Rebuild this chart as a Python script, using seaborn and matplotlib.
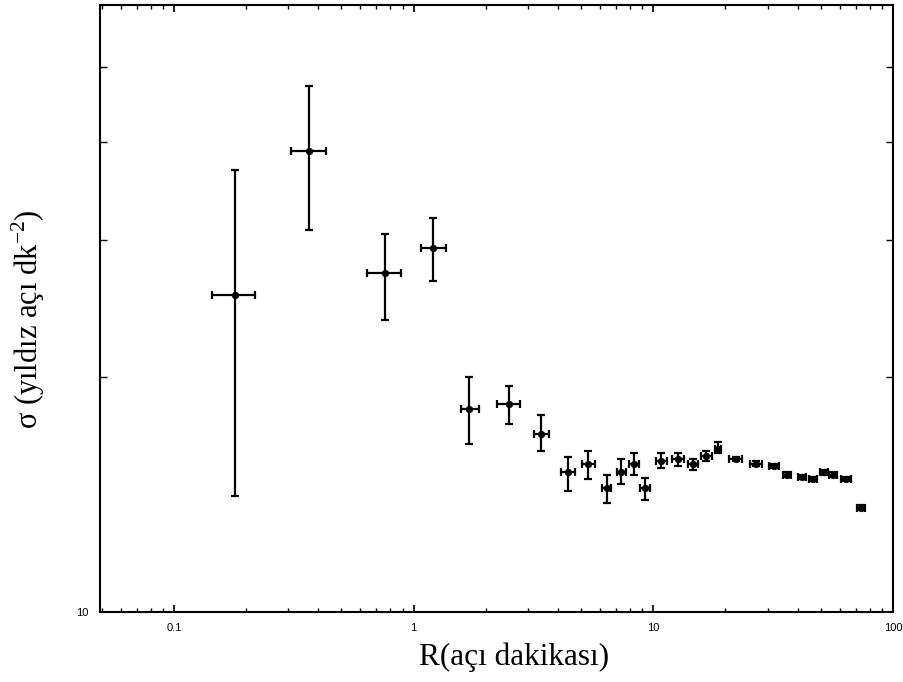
import numpy as np
import pandas as pd
import matplotlib
matplotlib.use("Agg")
import matplotlib.pyplot as plt
import seaborn as sns
from matplotlib.ticker import LogLocator, NullFormatter, FixedLocator, FixedFormatter

# values
r = [0.18, 0.365, 0.757, 1.21, 1.71, 2.51, 3.41, 4.42, 5.36, 6.43, 7.36, 8.33,
     9.26, 10.8, 12.7, 14.7, 16.6, 18.7, 22.2, 26.9, 31.9, 36.2, 41.8, 46.4,
     51.6, 56.2, 63.7, 73.6]
r_lo = [0.144, 0.307, 0.637, 1.07, 1.585, 2.22, 3.19, 4.14, 5.06, 6.13, 7.08, 7.94,
        8.83, 10.3, 12.0, 14.0, 15.85, 18.1, 20.7, 25.4, 30.4, 34.8, 40.2, 44.7,
        49.6, 54.1, 60.7, 70.8]
r_hi = [0.218, 0.430, 0.883, 1.37, 1.88, 2.77, 3.69, 4.73, 5.73, 6.68, 7.72, 8.75,
        9.72, 11.4, 13.5, 15.4, 17.5, 19.2, 23.5, 28.5, 33.5, 37.6, 43.4, 48.2,
        53.6, 58.4, 66.8, 76.4]
sigma = [25.5, 39.0, 27.2, 29.3, 18.2, 18.5, 16.9, 15.1, 15.5, 14.4, 15.1, 15.5,
         14.4, 15.6, 15.7, 15.5, 15.85, 16.2, 15.7, 15.5, 15.4, 15.0, 14.9, 14.8,
         15.1, 15.0, 14.8, 13.6]
sigma_lo = [14.1, 30.9, 23.7, 26.6, 16.4, 17.4, 16.1, 14.3, 14.8, 13.8, 14.6, 15.0,
            13.9, 15.3, 15.4, 15.2, 15.6, 16.0, 15.6, 15.4, 15.3, 14.9, 14.8, 14.7,
            15.0, 14.9, 14.7, 13.5]
sigma_hi = [36.9, 47.2, 30.5, 32.0, 20.0, 19.5, 17.9, 15.8, 16.1, 15.0, 15.7, 16.0,
            14.85, 15.99, 16.0, 15.7, 16.1, 16.5, 15.8, 15.6, 15.5, 15.1, 15.0, 14.9,
            15.2, 15.1, 14.9, 13.7]

df = pd.DataFrame({"r": r, "sigma": sigma})

sns.set_theme(style="ticks")
plt.rcParams["font.family"] = ["Liberation Serif", "DejaVu Serif"]
plt.rcParams["mathtext.fontset"] = "custom"
plt.rcParams["mathtext.rm"] = "Liberation Serif"
plt.rcParams["text.color"] = "black"
plt.rcParams["axes.labelcolor"] = "black"
plt.rcParams["xtick.color"] = "black"
plt.rcParams["ytick.color"] = "black"

fig = plt.figure(figsize=(9.04, 6.82), dpi=100)
ax = fig.add_axes([0.1106, 0.1026, 0.8772, 0.8901])

x = np.array(r)
y = np.array(sigma)
xerr = [x - np.array(r_lo), np.array(r_hi) - x]
yerr = [y - np.array(sigma_lo), np.array(sigma_hi) - y]

ax.errorbar(x, y, xerr=xerr, yerr=yerr, fmt="none", ecolor="black",
            elinewidth=1.6, capsize=3, capthick=1.6, zorder=2)
sns.scatterplot(data=df, x="r", y="sigma", ax=ax, color="black", s=22,
                edgecolor="black", linewidth=0.5, zorder=3, legend=False)

ax.set_xscale("log")
ax.set_yscale("log")
ax.set_xlim(0.0492, 100)
ax.set_ylim(10, 60)

# y ticks: only "10" labelled, unlabelled marks at 20..50
ax.yaxis.set_major_locator(FixedLocator([10]))
ax.yaxis.set_major_formatter(FixedFormatter(["10"]))
ax.yaxis.set_minor_locator(FixedLocator([20, 30, 40, 50]))
ax.yaxis.set_minor_formatter(NullFormatter())

ax.xaxis.set_major_locator(FixedLocator([0.1, 1, 10, 100]))
ax.xaxis.set_major_formatter(FixedFormatter(["0.1", "1", "10", "100"]))
ax.xaxis.set_minor_locator(LogLocator(base=10, subs=np.arange(2, 10)))
ax.xaxis.set_minor_formatter(NullFormatter())

ax.tick_params(which="both", direction="in", top=True, right=True)
ax.tick_params(axis="x", which="major", length=5, width=1.2, labelsize=8, pad=8)
ax.tick_params(axis="x", which="minor", length=3, width=1)
ax.tick_params(axis="y", which="major", length=0, labelsize=8, pad=8)
ax.tick_params(axis="y", which="minor", length=5, width=1)
for lab in ax.get_xticklabels() + ax.get_yticklabels():
    lab.set_fontfamily("Liberation Sans")

for sp in ax.spines.values():
    sp.set_linewidth(1.5)
    sp.set_color("black")

ax.set_xlabel("R(açı dakikası)", fontsize=22.5)
ax.set_ylabel(r"σ (yıldız açı dk$^{\mathrm{-2}}$)", fontsize=22)
ax.xaxis.set_label_coords(0.522, -0.051)
ax.yaxis.set_label_coords(-0.067, 0.483)

fig.savefig("out.png", dpi=100)
